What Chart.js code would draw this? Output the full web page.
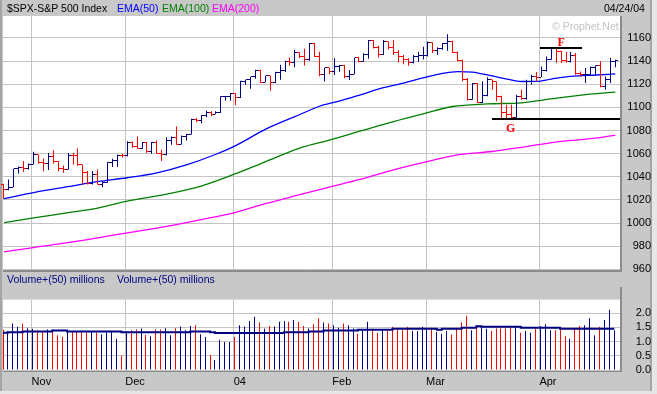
<!DOCTYPE html>
<html>
<head>
<meta charset="utf-8">
<title>$SPX-S&amp;P 500 Index</title>
<script src="https://cdn.jsdelivr.net/npm/chart.js@4.4.1/dist/chart.umd.min.js"></script>
<style>
  html, body { margin: 0; padding: 0; }
  body { position: relative; width: 657px; height: 394px; overflow: hidden; background: #c8c8c8;
         font-family: "Liberation Sans", Arial, sans-serif; font-size: 10.5px; }
  .t { position: absolute; white-space: nowrap; line-height: 12px; z-index: 2; }
  .edge { position: absolute; }
  canvas { position: absolute; left: 0; z-index: 1; }
  #priceChart { top: 0; }
  #volumeChart { top: 280px; }
</style>
</head>
<body>
<div class="edge" style="left:620px;top:16px;width:2px;height:256px;background:#8c8c8c"></div>
<div class="edge" style="left:3px;top:270px;width:619px;height:2px;background:#8c8c8c"></div>
<div class="edge" style="left:620px;top:287px;width:2px;height:85px;background:#8c8c8c"></div>
<div class="edge" style="left:3px;top:370px;width:619px;height:2px;background:#8c8c8c"></div>
<div class="edge" style="left:0;top:0;width:2px;height:394px;background:#a4a4a4"></div>
<div class="edge" style="left:650px;top:0;width:2px;height:394px;background:#a4a4a4"></div>
<div class="edge" style="left:652px;top:0;width:5px;height:394px;background:#e6e6e6"></div>
<div class="edge" style="left:0;top:391px;width:657px;height:3px;background:#e6e6e6"></div>

<canvas id="priceChart" width="657" height="280"></canvas>
<canvas id="volumeChart" width="657" height="114"></canvas>

<div class="t" style="left:7px;top:2px;color:#000">$SPX-S&amp;P 500 Index</div>
<div class="t" style="left:117px;top:2px;color:#0000ff">EMA(50)</div>
<div class="t" style="left:162px;top:2px;color:#008000">EMA(100)</div>
<div class="t" style="left:212px;top:2px;color:#ff00ff">EMA(200)</div>
<div class="t" style="left:604px;top:2px;color:#000">04/24/04</div>
<div class="t" style="left:552px;top:20px;color:#c4c4c4">© Prophet.Net</div>
<div class="t" style="left:7px;top:273px;color:#000080">Volume+(50) millions</div>
<div class="t" style="left:117px;top:273px;color:#000080">Volume+(50) millions</div>

<script>
// trading days shown, grouped by month
const tradingDays = {
  '2003-10': [24, 27, 28, 29, 30, 31],
  '2003-11': [3, 4, 5, 6, 7, 10, 11, 12, 13, 14, 17, 18, 19, 20, 21, 24, 25, 26, 28],
  '2003-12': [1, 2, 3, 4, 5, 8, 9, 10, 11, 12, 15, 16, 17, 18, 19, 22, 23, 24, 26, 29, 30, 31],
  '2004-01': [2, 5, 6, 7, 8, 9, 12, 13, 14, 15, 16, 20, 21, 22, 23, 26, 27, 28, 29, 30],
  '2004-02': [2, 3, 4, 5, 6, 9, 10, 11, 12, 13, 17, 18, 19, 20, 23, 24, 25, 26, 27],
  '2004-03': [1, 2, 3, 4, 5, 8, 9, 10, 11, 12, 15, 16, 17, 18, 19, 22, 23, 24, 25, 26, 29, 30, 31],
  '2004-04': [1, 2, 5, 6, 7, 8, 12, 13, 14, 15, 16, 19, 20, 21, 22, 23]
};
const monthLabels = ['Nov', 'Dec', '04', 'Feb', 'Mar', 'Apr'];
const priceTicks = [960, 980, 1000, 1020, 1040, 1060, 1080, 1100, 1120, 1140, 1160];
const volumeTicks = [0, 0.5, 1, 1.5, 2];

const opens = [
  1033.8, 1028.9, 1031.1, 1046.8, 1048.1, 1046.9, 1050.7, 1059.0, 1052.8, 1051.8,
  1058.0, 1053.2, 1047.1, 1046.6, 1058.5, 1058.4, 1050.4, 1043.6, 1034.2, 1042.4,
  1033.7, 1035.3, 1052.1, 1053.9, 1058.4, 1058.2, 1070.1, 1066.6, 1064.7, 1069.7,
  1061.5, 1069.3, 1060.2, 1059.0, 1071.2, 1074.1, 1068.0, 1075.1, 1076.5, 1089.2,
  1088.7, 1092.9, 1096.0, 1094.0, 1095.9, 1109.5, 1109.6, 1111.9, 1108.5, 1122.2,
  1123.7, 1126.3, 1131.9, 1121.9, 1127.2, 1121.2, 1130.5, 1132.0, 1139.8, 1138.8,
  1147.6, 1143.9, 1141.6, 1155.4, 1144.1, 1128.5, 1134.1, 1131.1, 1135.3, 1136.0,
  1126.5, 1128.6, 1142.8, 1139.8, 1145.5, 1157.8, 1152.1, 1145.8, 1157.0, 1151.8,
  1147.1, 1144.1, 1141.0, 1139.1, 1143.7, 1144.9, 1145.0, 1156.0, 1149.1, 1151.0,
  1154.9, 1156.9, 1147.2, 1140.6, 1123.9, 1106.8, 1120.6, 1104.5, 1110.7, 1123.8,
  1122.3, 1109.8, 1095.4, 1094.0, 1091.3, 1109.2, 1108.1, 1122.5, 1127.0, 1126.2,
  1132.2, 1141.8, 1150.6, 1148.2, 1140.5, 1139.3, 1145.2, 1129.4, 1128.2, 1128.8,
  1134.6, 1135.8, 1118.2, 1124.1, 1139.9
];
const highs = [
  1034.0, 1037.8, 1047.0, 1049.0, 1053.6, 1051.5, 1061.6, 1059.3, 1055.9, 1060.7,
  1063.0, 1053.6, 1049.8, 1060.7, 1060.7, 1064.5, 1050.7, 1045.0, 1045.0, 1046.4,
  1036.3, 1052.7, 1055.6, 1059.3, 1059.9, 1070.8, 1070.5, 1074.9, 1070.0, 1070.0,
  1070.0, 1071.4, 1063.4, 1074.3, 1074.9, 1083.5, 1075.7, 1077.2, 1090.1, 1090.7,
  1093.5, 1097.3, 1096.7, 1096.6, 1109.6, 1109.8, 1112.5, 1112.5, 1123.1, 1124.0,
  1126.5, 1132.6, 1132.6, 1127.4, 1127.4, 1130.8, 1136.9, 1140.3, 1143.2, 1149.8,
  1147.6, 1150.7, 1155.6, 1155.6, 1148.0, 1134.3, 1134.3, 1142.4, 1136.6, 1136.6,
  1132.3, 1143.0, 1143.8, 1146.7, 1158.2, 1158.2, 1153.3, 1158.2, 1157.0, 1158.2,
  1149.5, 1145.2, 1142.4, 1145.2, 1148.1, 1152.4, 1157.0, 1156.4, 1152.0, 1155.6,
  1163.3, 1157.6, 1148.4, 1141.2, 1125.4, 1121.0, 1121.0, 1122.5, 1126.0, 1124.0,
  1122.3, 1110.0, 1102.4, 1102.4, 1111.0, 1115.3, 1123.9, 1128.3, 1130.6, 1135.4,
  1144.1, 1150.7, 1150.6, 1149.0, 1147.8, 1147.8, 1147.0, 1131.1, 1134.0, 1135.4,
  1136.3, 1139.8, 1126.8, 1142.6, 1141.2
];
const lows = [
  1021.0, 1028.3, 1031.1, 1042.9, 1044.1, 1046.4, 1050.7, 1051.5, 1044.9, 1045.8,
  1051.5, 1044.9, 1043.5, 1046.4, 1050.7, 1049.3, 1033.4, 1033.4, 1033.4, 1033.4,
  1031.1, 1034.9, 1048.4, 1048.4, 1056.5, 1057.6, 1065.1, 1064.2, 1064.2, 1060.5,
  1060.0, 1060.0, 1053.6, 1058.5, 1067.7, 1067.7, 1068.0, 1071.4, 1076.5, 1087.2,
  1086.3, 1091.5, 1092.4, 1094.0, 1095.2, 1105.8, 1105.8, 1101.8, 1108.1, 1119.6,
  1116.2, 1124.8, 1121.1, 1121.7, 1114.5, 1121.1, 1124.0, 1130.6, 1136.0, 1134.6,
  1142.6, 1136.3, 1140.3, 1143.5, 1127.0, 1122.3, 1128.6, 1128.0, 1130.9, 1125.1,
  1123.7, 1128.6, 1139.0, 1139.5, 1142.0, 1151.0, 1143.2, 1145.2, 1150.0, 1145.2,
  1138.9, 1137.2, 1136.0, 1138.0, 1139.5, 1141.5, 1144.1, 1147.0, 1145.5, 1149.8,
  1149.0, 1147.0, 1139.8, 1122.5, 1106.0, 1106.7, 1103.8, 1103.8, 1109.6, 1115.3,
  1105.3, 1090.9, 1090.9, 1089.7, 1091.0, 1106.7, 1106.7, 1119.6, 1122.5, 1126.2,
  1131.1, 1141.2, 1138.3, 1138.3, 1138.9, 1138.9, 1128.3, 1126.8, 1121.0, 1128.3,
  1128.3, 1117.5, 1115.3, 1121.1, 1134.6
];
const closes = [
  1028.9, 1031.1, 1046.8, 1048.1, 1046.9, 1050.7, 1059.0, 1052.8, 1051.8, 1058.0,
  1053.2, 1047.1, 1046.6, 1058.5, 1058.4, 1050.4, 1043.6, 1034.2, 1042.4, 1033.7,
  1035.3, 1052.1, 1053.9, 1058.4, 1058.2, 1070.1, 1066.6, 1064.7, 1069.7, 1061.5,
  1069.3, 1060.2, 1059.0, 1071.2, 1074.1, 1068.0, 1075.1, 1076.5, 1089.2, 1088.7,
  1092.9, 1096.0, 1094.0, 1095.9, 1109.5, 1109.6, 1111.9, 1108.5, 1122.2, 1123.7,
  1126.3, 1131.9, 1121.9, 1127.2, 1121.2, 1130.5, 1132.0, 1139.8, 1138.8, 1147.6,
  1143.9, 1141.6, 1155.4, 1144.1, 1128.5, 1134.1, 1131.1, 1135.3, 1136.0, 1126.5,
  1128.6, 1142.8, 1139.8, 1145.5, 1157.8, 1152.1, 1145.8, 1157.0, 1151.8, 1147.1,
  1144.1, 1141.0, 1139.1, 1143.7, 1144.9, 1145.0, 1156.0, 1149.1, 1151.0, 1154.9,
  1156.9, 1147.2, 1140.6, 1123.9, 1106.8, 1120.6, 1104.5, 1110.7, 1123.8, 1122.3,
  1109.8, 1095.4, 1094.0, 1091.3, 1109.2, 1108.1, 1122.5, 1127.0, 1126.2, 1132.2,
  1141.8, 1150.6, 1148.2, 1140.5, 1139.3, 1145.2, 1129.4, 1128.2, 1128.8, 1134.6,
  1135.8, 1118.2, 1124.1, 1139.9, 1140.6
];
// volume in millions of shares
const volumes = [
  1.42, 1.37, 1.64, 1.52, 1.64, 1.47, 1.45, 1.39, 1.35, 1.43,
  1.42, 1.22, 1.16, 1.37, 1.37, 1.37, 1.35, 1.31, 1.37, 1.31,
  1.26, 1.32, 1.35, 1.10, 0.50, 1.37, 1.40, 1.43, 1.46, 1.23,
  1.19, 1.43, 1.43, 1.47, 1.22, 1.47, 1.53, 1.40, 1.55, 1.58,
  1.26, 1.16, 0.53, 0.35, 1.07, 0.99, 0.99, 1.16, 1.58, 1.53,
  1.73, 1.88, 1.67, 1.46, 1.55, 1.53, 1.70, 1.73, 1.70, 1.76,
  1.70, 1.55, 1.46, 1.61, 1.82, 1.67, 1.64, 1.58, 1.49, 1.64,
  1.58, 1.46, 1.28, 1.40, 1.70, 1.46, 1.31, 1.40, 1.37, 1.52,
  1.43, 1.40, 1.52, 1.37, 1.37, 1.52, 1.46, 1.49, 1.34, 1.28,
  1.37, 1.25, 1.49, 1.67, 1.91, 1.40, 1.55, 1.49, 1.45, 1.37,
  1.46, 1.46, 1.46, 1.52, 1.52, 1.31, 1.37, 1.31, 1.46, 1.55,
  1.61, 1.40, 1.40, 1.46, 1.19, 1.10, 1.46, 1.55, 1.58, 1.82,
  1.22, 1.52, 1.76, 2.12, 1.40
];

// moving averages, read at these bar numbers
const ema50Idx = [0, 6, 13, 19, 25, 31, 37, 43, 47, 53, 59, 64, 68, 72, 77, 80, 85, 89, 92, 95, 99, 102, 105, 108, 111, 115, 120, 124];
const ema50 = [1021.2, 1026.4, 1031.5, 1035.8, 1039.2, 1043.4, 1050.3, 1059.5, 1067.0, 1081.0, 1092.0, 1101.0, 1105.5, 1110.5,
  1117.0, 1120.0, 1125.5, 1129.5, 1131.0, 1130.5, 1127.2, 1124.5, 1122.4, 1122.5, 1124.5, 1126.8, 1128.0, 1128.9];
const ema100Idx = [0, 6, 13, 19, 25, 33, 40, 47, 53, 60, 66, 72, 79, 85, 91, 98, 105, 111, 118, 124];
const ema100 = [1000.4, 1004.5, 1009.0, 1013.0, 1019.0, 1025.0, 1032.0, 1042.7, 1053.0, 1064.8, 1071.8, 1079.2, 1087.8,
  1094.5, 1100.8, 1103.0, 1104.0, 1107.3, 1111.0, 1113.2];
const ema200Idx = [0, 6, 13, 19, 25, 33, 40, 47, 53, 60, 66, 72, 79, 86, 92, 99, 106, 113, 120, 124];
const ema200 = [975.2, 978.9, 983.1, 987.2, 991.6, 997.2, 1003.0, 1009.3, 1016.8, 1024.6, 1031.2, 1037.5, 1046.1,
  1053.3, 1059.0, 1061.9, 1066.2, 1070.6, 1073.4, 1076.0];
const volAvgIdx = [0, 1, 4, 10, 13, 24, 38, 42, 43, 57, 62, 65, 72, 79, 88, 89, 93, 96, 97, 105, 113, 124];
const volAvg = [1.31, 1.33, 1.36, 1.39, 1.36, 1.33, 1.36, 1.33, 1.30, 1.33, 1.36, 1.39, 1.42, 1.45, 1.42, 1.45,
  1.49, 1.54, 1.52, 1.49, 1.45, 1.45];

// F / G marks: price level, bar range of the line, bar under the letter
const noteLabels = ['F', 'G'];
const noteLevels = [1151.3, 1090.0];
const noteFrom = [108.7, 99];
const noteTo = [117.2, 125];
const noteAt = [113, 102.75];

const dates = Object.entries(tradingDays).flatMap(([m, days]) =>
  days.map(d => m + '-' + String(d).padStart(2, '0')));
const monthStarts = dates.map((d, i) => (i > 0 && d.slice(0, 7) !== dates[i - 1].slice(0, 7)) ? i : -1)
  .filter(i => i >= 0);

const UP = '#000080', DOWN = '#ff0000', GRID = '#c4c4c4';
const barColor = i => closes[i] >= opens[i] ? UP : DOWN;

Chart.defaults.font.family = '"Liberation Sans", Arial, sans-serif';
Chart.defaults.font.size = 11;
Chart.defaults.color = '#000';

const panelFill = {
  id: 'panelFill',
  beforeDraw(chart) {
    const { ctx, chartArea: a } = chart;
    ctx.save();
    ctx.fillStyle = '#fff';
    ctx.fillRect(a.left, a.top, a.right - a.left, a.bottom - a.top);
    ctx.restore();
  }
};

// keep the 1px bars on whole pixels
const crispBars = {
  id: 'crispBars',
  beforeDatasetsDraw(chart) {
    chart.getSortedVisibleDatasetMetas().forEach(meta => {
      if (meta.type !== 'bar') return;
      meta.data.forEach(el => { el.x = Math.floor(el.x) + 0.5; });
    });
  }
};

// open tick on the left, close tick on the right
const ohlcTicks = {
  id: 'ohlcTicks',
  afterDatasetsDraw(chart) {
    const { ctx, scales: { x, y } } = chart;
    ctx.save();
    for (let i = 0; i < closes.length; i++) {
      const px = Math.floor(x.getPixelForValue(i));
      ctx.fillStyle = barColor(i);
      ctx.fillRect(px - 2, Math.round(y.getPixelForValue(opens[i]) - 0.5), 2, 1);
      ctx.fillRect(px + 1, Math.round(y.getPixelForValue(closes[i]) - 0.5), 2, 1);
    }
    ctx.restore();
  }
};

const marks = {
  id: 'marks',
  afterDatasetsDraw(chart) {
    const { ctx, chartArea, scales: { x, y } } = chart;
    ctx.save();
    noteLabels.forEach((label, k) => {
      const yy = Math.round(y.getPixelForValue(noteLevels[k]));
      const x0 = Math.round(x.getPixelForValue(noteFrom[k]));
      const x1 = Math.round(Math.min(x.getPixelForValue(noteTo[k]), chartArea.right));
      ctx.fillStyle = '#000';
      ctx.fillRect(x0, yy - 1, x1 - x0, 2);
      ctx.fillStyle = '#ff0000';
      ctx.font = 'bold 12px "Liberation Serif", "Times New Roman", serif';
      ctx.textAlign = 'center';
      ctx.textBaseline = 'alphabetic';
      const below = label === 'G';
      ctx.fillText(label, x.getPixelForValue(noteAt[k]), below ? yy + 13 : yy - 2);
    });
    ctx.restore();
  }
};

function monthAxis(shift, showLabels, min, max) {
  return {
    type: 'linear', min: min, max: max, offset: false,
    grid: { color: GRID, drawTicks: false, offset: false },
    border: { display: false },
    ticks: {
      display: showLabels, autoSkip: false, maxRotation: 0, align: 'start', padding: 5,
      callback: (v, i) => monthLabels[i]
    },
    afterBuildTicks: s => { s.ticks = monthStarts.map(i => ({ value: i + shift })); },
    afterFit: s => { s.height = showLabels ? 20 : 0; }
  };
}

function line(label, idx, vals, color, width, extra) {
  return Object.assign({
    type: 'line', label: label,
    data: idx.map((x, k) => ({ x: x, y: vals[k] })),
    borderColor: color, borderWidth: width, pointRadius: 0, fill: false
  }, extra || {});
}

new Chart(document.getElementById('priceChart'), {
  type: 'bar',
  data: {
    datasets: [
      {
        type: 'bar', label: '$SPX',
        data: dates.map((d, i) => ({ x: i, y: [lows[i], highs[i]] })),
        backgroundColor: c => barColor(c.dataIndex),
        barThickness: 1, inflateAmount: 0, borderWidth: 0, order: 0
      },
      line('EMA(50)', ema50Idx, ema50, '#0000ff', 1.3, { order: 1, cubicInterpolationMode: 'monotone' }),
      line('EMA(100)', ema100Idx, ema100, '#008000', 1.3, { order: 1, cubicInterpolationMode: 'monotone' }),
      line('EMA(200)', ema200Idx, ema200, '#ff00ff', 1.3, { order: 1, cubicInterpolationMode: 'monotone' })
    ]
  },
  options: {
    responsive: false, animation: false, events: [],
    layout: { padding: { left: 3, top: 16, right: 6, bottom: 10 } },
    plugins: { legend: { display: false }, tooltip: { enabled: false } },
    scales: {
      x: monthAxis(-0.4, false, -0.2, 124.95),
      y: {
        position: 'right', min: 960, max: 1179,
        grid: { color: GRID, drawTicks: false }, border: { display: false },
        ticks: { crossAlign: 'far', padding: 4, callback: v => String(v) },
        afterBuildTicks: s => { s.ticks = priceTicks.map(v => ({ value: v })); },
        afterFit: s => { s.width = 31; }
      }
    }
  },
  plugins: [panelFill, crispBars, ohlcTicks, marks]
});

new Chart(document.getElementById('volumeChart'), {
  type: 'bar',
  data: {
    datasets: [
      {
        type: 'bar', label: 'Volume',
        data: volumes.map((v, i) => ({ x: i, y: v })),
        backgroundColor: c => barColor(c.dataIndex),
        barThickness: 1, inflateAmount: 0, borderWidth: 0, order: 1
      },
      line('Volume avg (50)', volAvgIdx, volAvg, UP, 2, { stepped: true, order: 0 })
    ]
  },
  options: {
    responsive: false, animation: false, events: [],
    layout: { padding: { left: 3, top: 7, right: 6, bottom: 4 } },
    plugins: { legend: { display: false }, tooltip: { enabled: false } },
    scales: {
      x: monthAxis(-0.2, true, 0, 125.15),
      y: {
        position: 'right', min: 0, max: 2.48,
        grid: { color: GRID, drawTicks: false }, border: { display: false },
        ticks: { crossAlign: 'far', padding: 13, callback: v => v.toFixed(1) },
        afterBuildTicks: s => { s.ticks = volumeTicks.map(v => ({ value: v })); },
        afterFit: s => { s.width = 31; }
      }
    }
  },
  plugins: [panelFill, crispBars]
});
</script>
</body>
</html>
